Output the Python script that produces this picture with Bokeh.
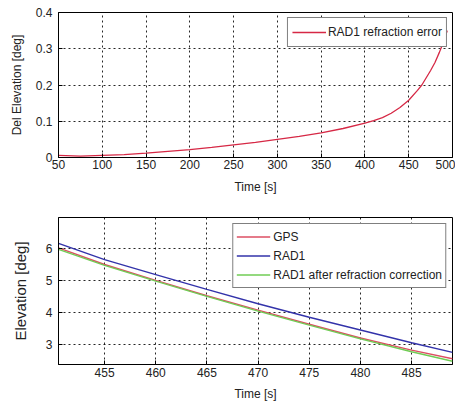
from bokeh.plotting import figure
from bokeh.layouts import column
from bokeh.models import Range1d, CustomJSTickFormatter, FixedTicker, Legend, LegendItem
from bokeh.embed import file_html
from bokeh.resources import INLINE

# ---- data: top panel (refraction error) ----
t_err = [50, 75, 100, 125, 150, 175, 200, 225, 250, 275, 300, 325, 350, 375,
         400, 410, 420, 430, 440, 450, 460, 465, 470, 475, 480, 485, 490, 494]
err = [0.006, 0.004, 0.006, 0.008, 0.012, 0.017, 0.022, 0.028, 0.035, 0.042,
       0.050, 0.058, 0.068, 0.080, 0.095, 0.102, 0.110, 0.122, 0.138, 0.158,
       0.185, 0.200, 0.220, 0.240, 0.262, 0.290, 0.320, 0.350]

# ---- data: bottom panel (elevation) ----
t_el = [450.5, 455, 460, 465, 470, 475, 480, 485, 489]
gps = [6.02, 5.50, 5.00, 4.52, 4.07, 3.63, 3.20, 2.82, 2.55]
rad1 = [6.16, 5.65, 5.18, 4.72, 4.27, 3.85, 3.45, 3.05, 2.75]
rad1_corr = [5.97, 5.47, 4.98, 4.50, 4.04, 3.60, 3.17, 2.77, 2.47]

x_ticks_top = [50, 100, 150, 200, 250, 300, 350, 400, 450, 500]
y_ticks_top = [0, 0.1, 0.2, 0.3, 0.4]
x_ticks_bot = [455, 460, 465, 470, 475, 480, 485]
y_ticks_bot = [3, 4, 5, 6]

FONT = "Liberation Sans"
TXT = "#222222"


def style(p, xt, yt):
    p.outline_line_color = "black"
    p.outline_line_width = 1
    p.background_fill_color = "white"
    p.border_fill_color = "white"
    for ax in (p.xaxis[0], p.yaxis[0]):
        ax.axis_line_color = "black"
        ax.major_tick_line_color = "black"
        ax.major_tick_in = 4
        ax.major_tick_out = 0
        ax.minor_tick_line_color = None
        ax.major_label_text_font = FONT
        ax.major_label_text_font_size = "12px"
        ax.major_label_text_color = TXT
        ax.axis_label_text_font = FONT
        ax.axis_label_text_font_style = "normal"
        ax.axis_label_text_color = TXT
    p.xaxis[0].ticker = FixedTicker(ticks=xt)
    p.yaxis[0].ticker = FixedTicker(ticks=yt)
    for g in (p.xgrid[0], p.ygrid[0]):
        g.grid_line_color = "black"
        g.grid_line_dash = "2 3"
        g.grid_line_width = 1
        g.grid_line_alpha = 0.85
    p.xgrid[0].ticker = FixedTicker(ticks=xt)
    p.ygrid[0].ticker = FixedTicker(ticks=yt)


# ---- top figure ----
p1 = figure(width=455, height=201, output_backend="svg", toolbar_location=None,
            x_range=Range1d(50, 500), y_range=Range1d(0, 0.4),
            min_border_left=58, min_border_right=3, min_border_top=12,
            min_border_bottom=44)
style(p1, x_ticks_top, y_ticks_top)
r1 = p1.line(t_err, err, line_color="#d62845", line_width=1.3)
p1.yaxis[0].formatter = CustomJSTickFormatter(code="return String(+tick.toFixed(2));")
p1.xaxis[0].axis_label = "Time [s]"
p1.xaxis[0].axis_label_text_font_size = "12px"
p1.xaxis[0].major_label_standoff = 2
p1.xaxis[0].axis_label_standoff = 8
p1.yaxis[0].axis_label = "Del Elevation [deg]"
p1.yaxis[0].axis_label_text_font_size = "12px"
p1.yaxis[0].major_label_standoff = 6
p1.yaxis[0].axis_label_standoff = 9
leg1 = Legend(items=[LegendItem(label="RAD1 refraction error", renderers=[r1])],
              location="top_right", margin=5, padding=4, spacing=0,
              label_height=20, glyph_height=20, glyph_width=34, label_standoff=2,
              label_text_font=FONT, label_text_font_size="12px", label_text_color=TXT,
              border_line_color="black", border_line_width=1,
              background_fill_color="white", background_fill_alpha=1.0)
p1.add_layout(leg1, "center")

# ---- bottom figure ----
p2 = figure(width=455, height=203, output_backend="svg", toolbar_location=None,
            x_range=Range1d(450.5, 489), y_range=Range1d(2.37, 6.97),
            min_border_left=58, min_border_right=3, min_border_top=16,
            min_border_bottom=40)
style(p2, x_ticks_bot, y_ticks_bot)
rg = p2.line(t_el, gps, line_color="#dd4f63", line_width=1.4)
rb = p2.line(t_el, rad1, line_color="#3333aa", line_width=1.4)
rc = p2.line(t_el, rad1_corr, line_color="#70cc55", line_width=1.4)
p2.xaxis[0].axis_label = "Time [s]"
p2.xaxis[0].axis_label_text_font_size = "12px"
p2.xaxis[0].major_label_standoff = 3
p2.xaxis[0].axis_label_standoff = 7
p2.yaxis[0].axis_label = "Elevation [deg]"
p2.yaxis[0].axis_label_text_font_size = "15px"
p2.yaxis[0].major_label_standoff = 6
p2.yaxis[0].axis_label_standoff = 14
leg2 = Legend(items=[LegendItem(label="GPS", renderers=[rg]),
                     LegendItem(label="RAD1", renderers=[rb]),
                     LegendItem(label="RAD1 after refraction correction", renderers=[rc])],
              location="top_right", margin=6, padding=3, spacing=0,
              label_height=19, glyph_height=19, glyph_width=34, label_standoff=3,
              label_text_font=FONT, label_text_font_size="12px", label_text_color=TXT,
              border_line_color="black", border_line_width=1,
              background_fill_color="white", background_fill_alpha=1.0)
p2.add_layout(leg2, "center")

layout = column(p1, p2, spacing=0)
open("out.html", "w").write(file_html(layout, INLINE))
